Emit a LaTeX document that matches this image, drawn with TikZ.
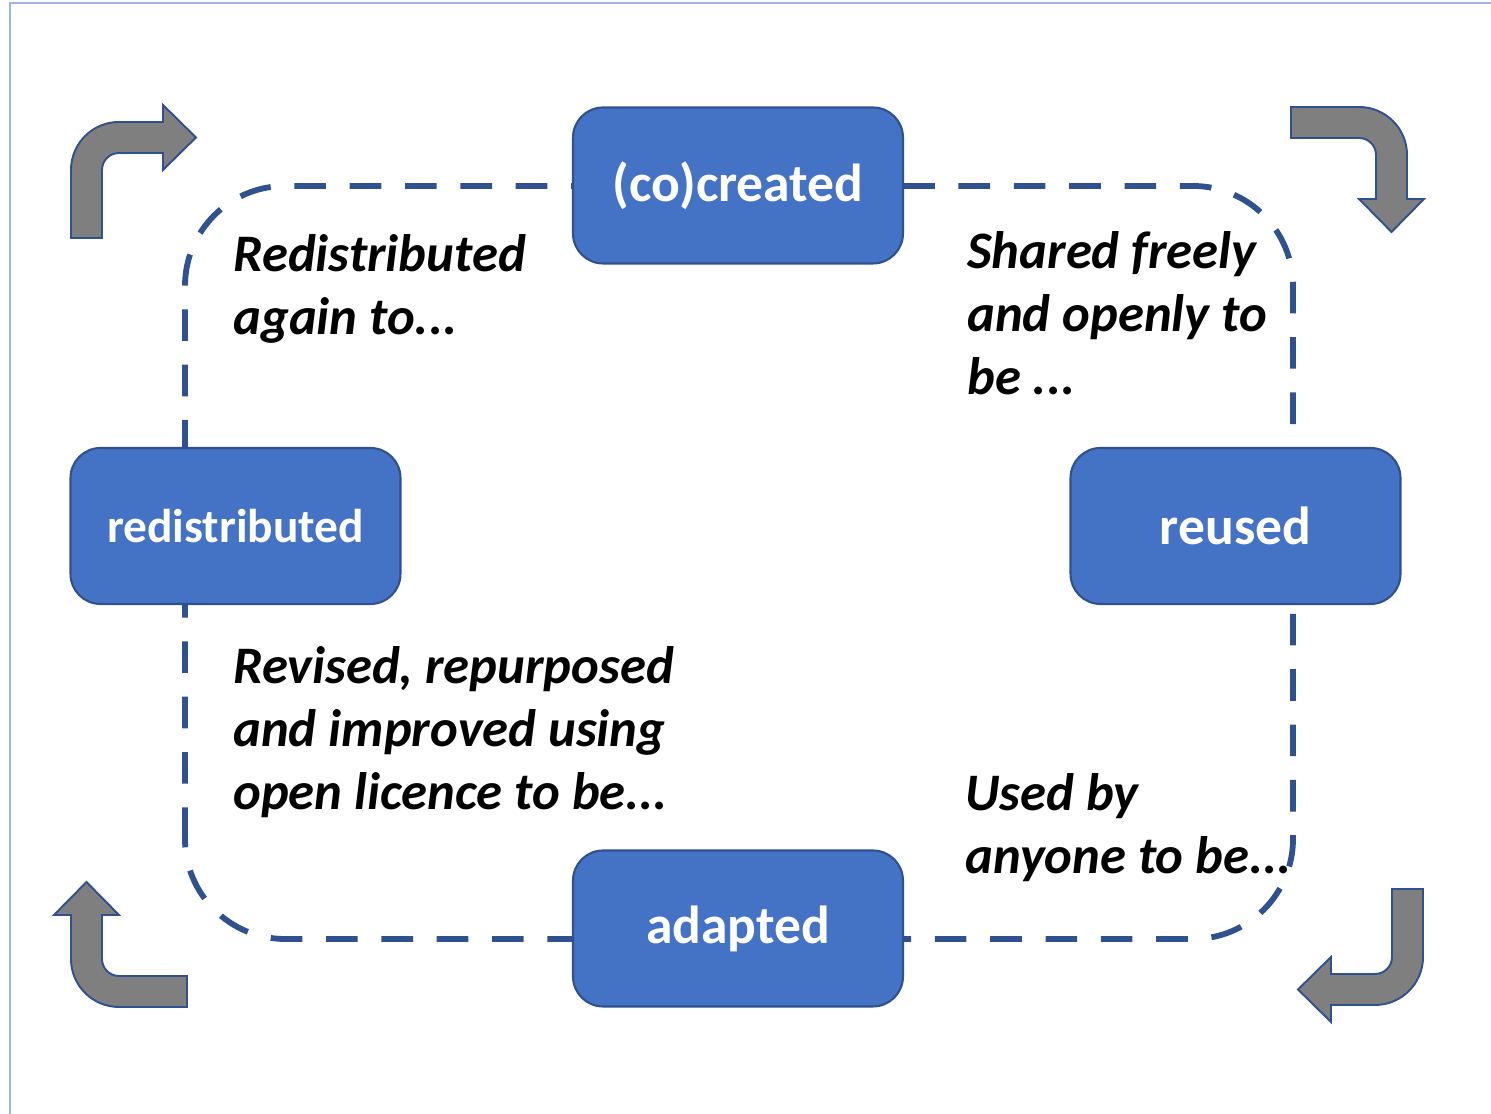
\documentclass[tikz,border=0pt]{standalone}
\usepackage{fontspec}
\setmainfont{Carlito}[Extension=.ttf, UprightFont=*-Regular, BoldFont=*-Bold,
  ItalicFont=*-Italic, BoldItalicFont=*-BoldItalic]
\usetikzlibrary{positioning}
\definecolor{boxblue}{HTML}{4472C4}
\definecolor{edgeblue}{HTML}{2F528F}
\definecolor{arrowgray}{HTML}{7F7F7F}
\definecolor{frameblue}{HTML}{9DB4E0}
\tikzset{
  stage/.style={draw=edgeblue, line width=1.2pt, fill=boxblue, rounded corners=0.6cm,
    minimum width=6.6cm, minimum height=3.12cm, text=white,
    font=\fontsize{30.5}{34}\selectfont\bfseries},
  note/.style={anchor=base west, align=left, inner sep=0pt,
    font=\fontsize{30}{36}\selectfont\bfseries\itshape},
  loopline/.style={draw=edgeblue, line width=3.3pt, dash pattern=on 18pt off 13.5pt},
  bentarrow/.pic={
    \draw[draw=edgeblue, line width=1.1pt, fill=arrowgray, line join=miter]
      (0,0) -- (0,68) arc[start angle=180, end angle=90, radius=48]
      -- (92,116) -- (92,133) -- (125,100.5) -- (92,68) -- (92,85)
      -- (48,85) arc[start angle=90, end angle=180, radius=17] -- (31,0) -- cycle;
  }
}
\begin{document}
\begin{tikzpicture}[x=0.02cm, y=0.02cm]
  \useasboundingbox (0,0) rectangle (1491,1114);

  % Frame
  \draw[frameblue, line width=1pt] (10,0) -- (10,1111) -- (1491,1111);

  % Dashed cycle
  \draw[loopline, rounded corners=2cm] (185,175) rectangle (1293,928);

  % Stages
  \node[stage] (cocreated) at (738,928.5) {(co)created};
  \node[stage] (reused) at (1235.5,588) {reused};
  \node[stage] (adapted) at (738,185.5) {adapted};
  \node[stage, font=\fontsize{27}{30}\selectfont\bfseries] (redistributed) at (235.5,588) {redistributed};

  % Notes (placed at the baseline of their last line)
  \node[note] (sharednote) at (967,719) {Shared freely\\and openly to\\be ...};
  \node[note] (usednote) at (965,240) {Used by\\anyone to be...};
  \node[note] (revisednote) at (233,304) {Revised, repurposed\\and improved using\\open licence to be...};
  \node[note] (againnote) at (233,779) {Redistributed\\again to...};

  % Corner arrows
  \foreach \px/\py/\ang in {71/876/0, 1291/1007/-90, 1423/225/180, 187/107/90}
    \pic[rotate=\ang] at (\px,\py) {bentarrow};
\end{tikzpicture}
\end{document}
